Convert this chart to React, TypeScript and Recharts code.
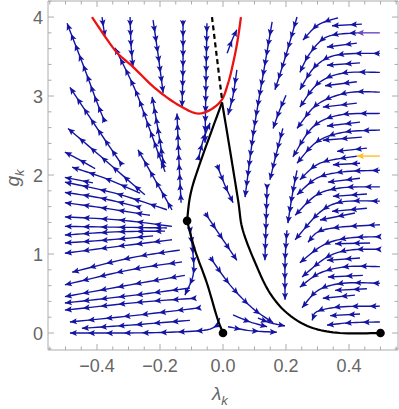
import React from 'react';
import { ScatterChart, Scatter, XAxis, YAxis, ReferenceArea } from 'recharts';

type Pt = [number, number];
type XY = { x: number; y: number };

const PLOT_W = 350;
const PLOT_H = 349;
const X_DOMAIN: [number, number] = [-0.5556, 0.5556];
const Y_DOMAIN: [number, number] = [-0.215, 4.203];

const xMajorTicks = [-0.4, -0.2, 0, 0.2, 0.4];
const yMajorTicks = [0, 1, 2, 3, 4];
// minor ticks every 0.05 (x) and 0.2 (y)
const xAllTicks = Array.from({ length: 23 }, (_, i) => Math.round((-0.55 + i * 0.05) * 100) / 100);
const yAllTicks = Array.from({ length: 23 }, (_, i) => Math.round((-0.2 + i * 0.2) * 10) / 10);

// streamlines, each listed tail -> head as [lambda, g]
const streamsUpperLeft: Pt[][] = [
  [[-0.375, 2.67], [-0.403, 2.95], [-0.438, 3.33], [-0.495, 3.92]],
  [[-0.321, 2.13], [-0.406, 2.63], [-0.486, 3.11]],
  [[-0.248, 1.75], [-0.375, 2.19], [-0.492, 2.59]],
  [[-0.184, 2.04], [-0.232, 2.57], [-0.279, 3.08], [-0.343, 3.61]],
  [[-0.187, 2.09], [-0.206, 2.57], [-0.225, 2.99]],
  [[-0.133, 1.65], [-0.14, 2.19], [-0.146, 2.78]],
  [[-0.079, 2.19], [-0.063, 2.44], [-0.041, 2.66]],
  [[-0.162, 1.56], [-0.216, 1.94], [-0.27, 2.32]],
  [[0.013, 3.54], [0.029, 3.71], [0.044, 3.84]],
];

const streamsTopDown: Pt[][] = [
  [[-0.384, 4.0], [-0.375, 3.75]],
  [[-0.295, 4.0], [-0.292, 3.65], [-0.286, 3.37]],
  [[-0.222, 3.96], [-0.206, 3.52], [-0.19, 3.04]],
  [[-0.127, 3.96], [-0.127, 3.39], [-0.13, 2.86]],
  [[-0.051, 3.92], [-0.054, 3.2], [-0.057, 2.41]],
  [[0.044, 3.33], [0.032, 3.01], [0.016, 2.76]],
];

const streamsCentral: Pt[][] = [
  [[0.156, 3.94], [0.13, 3.33], [0.098, 2.57], [0.07, 1.72]],
  [[0.235, 4.0], [0.2, 3.52], [0.165, 3.08]],
  [[0.2, 3.01], [0.178, 2.8], [0.159, 2.59]],
  [[0.19, 2.59], [0.168, 2.25], [0.149, 1.94]],
  [[0.14, 1.87], [0.137, 1.43], [0.133, 0.92]],
  [[0.235, 2.06], [0.22, 1.75], [0.206, 1.39]],
  [[0.203, 1.3], [0.197, 0.9], [0.197, 0.42]],
  [[-0.019, 2.13], [0.006, 1.87], [0.032, 1.65]],
  [[-0.057, 1.52], [-0.01, 1.24], [0.044, 0.92]],
  [[-0.041, 0.96], [0.022, 0.61], [0.092, 0.32], [0.159, 0.13]],
  [[0.032, 0.23], [0.086, 0.14], [0.14, 0.08]],
  [[0.016, 0.08], [0.086, 0.03], [0.171, 0.01]],
  [[0.111, 0.19], [0.149, 0.13], [0.197, 0.09]],
];

const streamsRight: Pt[][] = [
  [[0.365, 3.99], [0.302, 3.9], [0.254, 3.71]],
  [[0.441, 3.91], [0.346, 3.89]],
  [[0.425, 3.8], [0.33, 3.75], [0.276, 3.54], [0.244, 3.3]],
  [[0.425, 3.67], [0.33, 3.62]],
  [[0.498, 3.54], [0.362, 3.52], [0.292, 3.37], [0.244, 3.08]],
  [[0.435, 3.42], [0.33, 3.39]],
  [[0.498, 3.3], [0.381, 3.29], [0.302, 3.16], [0.244, 2.86]],
  [[0.425, 3.18], [0.324, 3.13]],
  [[0.498, 3.05], [0.394, 3.04], [0.298, 2.89], [0.235, 2.59]],
  [[0.425, 2.91], [0.317, 2.86]],
  [[0.498, 2.78], [0.371, 2.76], [0.286, 2.61], [0.222, 2.23]],
  [[0.435, 2.67], [0.33, 2.62]],
  [[0.498, 2.57], [0.381, 2.54], [0.298, 2.42], [0.235, 2.15]],
  [[0.441, 2.48], [0.317, 2.44]],
  [[0.457, 2.34], [0.362, 2.3]],
  [[0.425, 2.24], [0.308, 2.15], [0.244, 1.94]],
  [[0.435, 2.15], [0.349, 2.13]],
  [[0.498, 2.06], [0.381, 2.04], [0.298, 1.96], [0.235, 1.75]],
  [[0.435, 1.96], [0.333, 1.91]],
  [[0.498, 1.85], [0.381, 1.84], [0.298, 1.75], [0.229, 1.49]],
  [[0.457, 1.76], [0.349, 1.73]],
  [[0.498, 1.67], [0.378, 1.66], [0.308, 1.53], [0.229, 1.18]],
  [[0.457, 1.58], [0.346, 1.54]],
  [[0.419, 1.52], [0.308, 1.43]],
  [[0.498, 1.37], [0.371, 1.34], [0.302, 1.28], [0.27, 1.15]],
  [[0.498, 1.22], [0.394, 1.2], [0.317, 1.11], [0.244, 0.89]],
  [[0.467, 1.14], [0.356, 1.13]],
  [[0.498, 1.06], [0.403, 1.05], [0.33, 0.96], [0.251, 0.71]],
  [[0.435, 0.95], [0.33, 0.92]],
  [[0.498, 0.84], [0.394, 0.84], [0.308, 0.76], [0.244, 0.58]],
  [[0.444, 0.73], [0.333, 0.71]],
  [[0.498, 0.63], [0.381, 0.63], [0.302, 0.54], [0.251, 0.32]],
  [[0.457, 0.56], [0.356, 0.54]],
  [[0.419, 0.48], [0.317, 0.44]],
  [[0.498, 0.34], [0.371, 0.33], [0.298, 0.27], [0.283, 0.16]],
  [[0.435, 0.24], [0.34, 0.22]],
  [[0.498, 0.14], [0.403, 0.13], [0.33, 0.1]],
];
const purpleStream: Pt[] = [[0.498, 3.8], [0.425, 3.8]];
const amberStream: Pt[] = [[0.498, 2.24], [0.425, 2.24]];

const streamsLeft: Pt[][] = [
  [[-0.406, 2.08], [-0.454, 2.19], [-0.502, 2.29]],
  [[-0.263, 1.77], [-0.375, 1.96], [-0.479, 2.1]],
  [[-0.413, 1.9], [-0.502, 1.97]],
  [[-0.178, 1.56], [-0.343, 1.77], [-0.502, 1.91]],
  [[-0.263, 1.59], [-0.39, 1.71], [-0.502, 1.78]],
  [[-0.232, 1.49], [-0.375, 1.58], [-0.502, 1.65]],
  [[-0.162, 1.35], [-0.327, 1.43], [-0.502, 1.47]],
  [[-0.178, 1.33], [-0.343, 1.34], [-0.502, 1.35]],
  [[-0.184, 1.29], [-0.343, 1.28], [-0.502, 1.24]],
  [[-0.222, 1.23], [-0.359, 1.18], [-0.502, 1.14]],
  [[-0.162, 1.18], [-0.327, 1.1], [-0.502, 1.01]],
  [[-0.137, 1.05], [-0.295, 0.95], [-0.479, 0.77]],
  [[-0.13, 0.9], [-0.295, 0.8], [-0.502, 0.61]],
  [[-0.121, 0.73], [-0.295, 0.61], [-0.502, 0.46]],
  [[-0.105, 0.57], [-0.279, 0.48], [-0.502, 0.38]],
  [[-0.089, 0.44], [-0.263, 0.39], [-0.502, 0.29]],
  [[-0.073, 0.32], [-0.263, 0.23], [-0.486, 0.14]],
  [[-0.105, 0.16], [-0.295, 0.1], [-0.448, 0.06]],
  [[-0.105, 1.33], [-0.095, 0.99], [-0.095, 0.73], [-0.121, 0.48]],
  [[-0.01, 0.19], [-0.041, 0.05], [-0.168, 0.01], [-0.327, 0], [-0.486, 0]],
];

const redCurve: Pt[] = [
  [-0.416, 4.0], [-0.343, 3.58], [-0.286, 3.37], [-0.21, 3.08], [-0.13, 2.86],
  [-0.071, 2.78], [-0.01, 2.92], [0.016, 3.16], [0.034, 3.45], [0.047, 3.72], [0.057, 4.0],
];
const blackDashed: Pt[] = [[-0.035, 4.0], [-0.003, 2.95]];
const blackToFixedPoint: Pt[] = [[-0.003, 2.92], [-0.073, 2.15], [-0.103, 1.76], [-0.114, 1.42]];
const blackToGaussian: Pt[] = [[-0.114, 1.42], [-0.089, 1.05], [-0.051, 0.63], [-0.019, 0.2], [0, 0]];
const blackToRight: Pt[] = [
  [-0.003, 2.92], [0.022, 2.32], [0.048, 1.68], [0.063, 1.3], [0.108, 0.835],
  [0.149, 0.506], [0.203, 0.253], [0.276, 0.076], [0.371, 0.0], [0.5, 0],
];
const fixedPoints: Pt[] = [[0, 0], [0.5, 0], [-0.114, 1.42]];

const BLUE = '#1414a4';
const FRAME = '#acacac';
const LABEL = '#666666';
const FONT = '"Liberation Sans", Arial, sans-serif';

const toRows = (s: Pt[]) => s.map(([x, y]) => ({ x, y }));

// Catmull-Rom through the scaled points, sampled for drawing
const sampleCurve = (pts: XY[]): XY[] => {
  if (pts.length < 3) return pts;
  const out: XY[] = [pts[0]];
  for (let i = 0; i < pts.length - 1; i++) {
    const p0 = pts[Math.max(i - 1, 0)];
    const p1 = pts[i];
    const p2 = pts[i + 1];
    const p3 = pts[Math.min(i + 2, pts.length - 1)];
    const c1 = { x: p1.x + (p2.x - p0.x) / 6, y: p1.y + (p2.y - p0.y) / 6 };
    const c2 = { x: p2.x - (p3.x - p1.x) / 6, y: p2.y - (p3.y - p1.y) / 6 };
    for (let k = 1; k <= 10; k++) {
      const t = k / 10;
      const u = 1 - t;
      out.push({
        x: u * u * u * p1.x + 3 * u * u * t * c1.x + 3 * u * t * t * c2.x + t * t * t * p2.x,
        y: u * u * u * p1.y + 3 * u * u * t * c1.y + 3 * u * t * t * c2.y + t * t * t * p2.y,
      });
    }
  }
  return out;
};

// arrowheads from the head backwards; sparser where the stream runs sideways
const arrowSpots = (poly: XY[]) => {
  const acc = [0];
  for (let i = 1; i < poly.length; i++) {
    acc.push(acc[i - 1] + Math.hypot(poly[i].x - poly[i - 1].x, poly[i].y - poly[i - 1].y));
  }
  const total = acc[acc.length - 1];
  const spots: { x: number; y: number; ux: number; uy: number }[] = [];
  let s = total;
  while (s > 5) {
    let i = 1;
    while (i < acc.length - 1 && acc[i] < s) i++;
    const a = poly[i - 1];
    const b = poly[i];
    const l = acc[i] - acc[i - 1] || 1;
    const t = (s - acc[i - 1]) / l;
    const ux = (b.x - a.x) / l;
    const uy = (b.y - a.y) / l;
    spots.push({ x: a.x + (b.x - a.x) * t, y: a.y + (b.y - a.y) * t, ux, uy });
    s -= 10 + 8 * ux * ux;
  }
  return spots;
};

const pathOf = (poly: XY[]) =>
  poly.map((p, i) => `${i ? 'L' : 'M'}${p.x.toFixed(2)},${p.y.toFixed(2)}`).join('');

const streamLine = (color: string) => (props: any) => {
  const poly = sampleCurve(props.points || []);
  if (poly.length < 2) return <g />;
  return (
    <g>
      <path d={pathOf(poly)} fill="none" stroke={color} strokeWidth={1.4} />
      {arrowSpots(poly).map((a, i) => {
        const bx = a.x - a.ux * 7;
        const by = a.y - a.uy * 7;
        const mx = a.x - a.ux * 5.6;
        const my = a.y - a.uy * 5.6;
        const nx = -a.uy * 3.1;
        const ny = a.ux * 3.1;
        return (
          <polygon
            key={i}
            points={`${a.x},${a.y} ${bx + nx},${by + ny} ${mx},${my} ${bx - nx},${by - ny}`}
            fill={color}
          />
        );
      })}
    </g>
  );
};

const curveLine = (color: string, width: number, dash?: string) => (props: any) => {
  const poly = sampleCurve(props.points || []);
  if (poly.length < 2) return <g />;
  return <path d={pathOf(poly)} fill="none" stroke={color} strokeWidth={width} strokeDasharray={dash} />;
};

const noPoint = () => <g />;
const dotShape = (p: any) => <circle cx={p.cx} cy={p.cy} r={4.3} fill="#000" />;

const near = (list: number[], v: number) => list.some((t) => Math.abs(t - v) < 1e-6);
const fmtX = (v: number) => (Math.abs(v) < 1e-9 ? '0.0' : v.toFixed(1).replace('-', '\u2212'));

const XTick = ({ x, y, payload }: any) => {
  const v = payload.value;
  const major = near(xMajorTicks, v);
  const len = major ? 6 : 3.5;
  return (
    <g>
      <line x1={x} x2={x} y1={y} y2={y - len} stroke={FRAME} />
      <line x1={x} x2={x} y1={y - PLOT_H} y2={y - PLOT_H + len} stroke={FRAME} />
      {major && (
        <text x={x} y={y + 22} textAnchor="middle" fill={LABEL} fontSize={18} fontFamily={FONT}>
          {fmtX(v)}
        </text>
      )}
    </g>
  );
};

const YTick = ({ x, y, payload }: any) => {
  const v = payload.value;
  const major = near(yMajorTicks, v);
  const len = major ? 6 : 3.5;
  return (
    <g>
      <line x1={x} x2={x + len} y1={y} y2={y} stroke={FRAME} />
      <line x1={x + PLOT_W} x2={x + PLOT_W - len} y1={y} y2={y} stroke={FRAME} />
      {major && (
        <text x={x - 5} y={y + 6.5} textAnchor="end" fill={LABEL} fontSize={18} fontFamily={FONT}>
          {String(v)}
        </text>
      )}
    </g>
  );
};

const blueStreams = [...streamsUpperLeft, ...streamsTopDown, ...streamsCentral, ...streamsRight, ...streamsLeft];

export default function App() {
  return (
    <div style={{ position: 'absolute', left: 0, top: 0, width: 399, height: 409, background: '#fff' }}>
      <ScatterChart width={399} height={409} margin={{ top: 1, right: 1, bottom: 0, left: 0 }}>
        <XAxis
          type="number"
          dataKey="x"
          domain={X_DOMAIN}
          allowDataOverflow
          ticks={xAllTicks}
          interval={0}
          tick={<XTick />}
          tickLine={false}
          axisLine={false}
          tickSize={0}
          tickMargin={0}
          height={59}
        />
        <YAxis
          type="number"
          dataKey="y"
          domain={Y_DOMAIN}
          allowDataOverflow
          ticks={yAllTicks}
          interval={0}
          tick={<YTick />}
          tickLine={false}
          axisLine={false}
          tickSize={0}
          tickMargin={0}
          width={48}
        />
        <ReferenceArea
          x1={X_DOMAIN[0]}
          x2={X_DOMAIN[1]}
          y1={Y_DOMAIN[0]}
          y2={Y_DOMAIN[1]}
          fill="none"
          fillOpacity={0}
          stroke={FRAME}
          strokeWidth={1}
        />
        {blueStreams.map((s, i) => (
          <Scatter
            key={`b${i}`}
            data={toRows(s)}
            line={streamLine(BLUE)}
            shape={noPoint}
            legendType="none"
            isAnimationActive={false}
          />
        ))}
        <Scatter data={toRows(purpleStream)} line={streamLine('#6a48c0')} shape={noPoint} isAnimationActive={false} />
        <Scatter data={toRows(amberStream)} line={streamLine('#ffbf1f')} shape={noPoint} isAnimationActive={false} />
        <Scatter data={toRows(redCurve)} line={curveLine('#ee1111', 2.3)} shape={noPoint} isAnimationActive={false} />
        <Scatter data={toRows(blackDashed)} line={curveLine('#000', 2.2, '5 3.5')} shape={noPoint} isAnimationActive={false} />
        <Scatter data={toRows(blackToFixedPoint)} line={curveLine('#000', 2.2)} shape={noPoint} isAnimationActive={false} />
        <Scatter data={toRows(blackToGaussian)} line={curveLine('#000', 2.2)} shape={noPoint} isAnimationActive={false} />
        <Scatter data={toRows(blackToRight)} line={curveLine('#000', 2.2)} shape={noPoint} isAnimationActive={false} />
        <Scatter data={toRows(fixedPoints)} shape={dotShape} isAnimationActive={false} />
      </ScatterChart>
      <div
        style={{
          position: 'absolute', left: 212, top: 384, color: LABEL, fontFamily: FONT,
          fontSize: 19, fontStyle: 'italic', whiteSpace: 'nowrap', lineHeight: '20px',
        }}
      >
        λ<span style={{ fontSize: 13, position: 'relative', top: 5 }}>k</span>
      </div>
      <div
        style={{
          position: 'absolute', left: 14, top: 178, color: LABEL, fontFamily: FONT,
          fontSize: 19, fontStyle: 'italic', whiteSpace: 'nowrap', lineHeight: '20px',
          transform: 'translate(-50%, -50%) rotate(-90deg)',
        }}
      >
        g<span style={{ fontSize: 13, position: 'relative', top: 5 }}>k</span>
      </div>
    </div>
  );
}
